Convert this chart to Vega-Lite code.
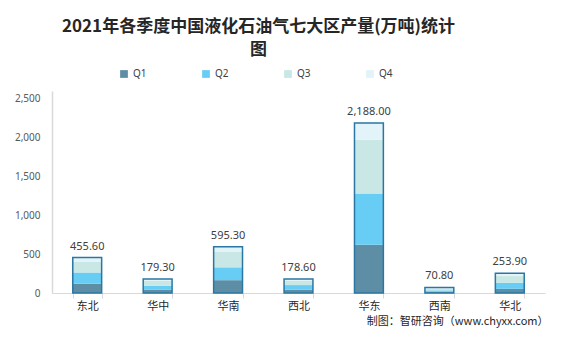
{
  "$schema": "https://vega.github.io/schema/vega-lite/v6.json",
  "width": 493,
  "height": 202,
  "autosize": "none",
  "padding": {"left": 52, "top": 91, "right": 16, "bottom": 46},
  "background": "white",
  "title": {
    "text": ["2021年各季度中国液化石油气七大区产量(万吨)统计", "图"],
    "font": "Noto Sans CJK SC",
    "fontSize": 17,
    "fontWeight": "bold",
    "color": "#262626",
    "lineHeight": 23,
    "anchor": "middle",
    "baseline": "top",
    "dx": -40,
    "offset": 10
  },
  "data": {
    "values": [
      {"region": "东北", "q": "Q1", "v": 119},
      {"region": "东北", "q": "Q2", "v": 145},
      {"region": "东北", "q": "Q3", "v": 140},
      {"region": "东北", "q": "Q4", "v": 51.6},
      {"region": "华中", "q": "Q1", "v": 41},
      {"region": "华中", "q": "Q2", "v": 53},
      {"region": "华中", "q": "Q3", "v": 62},
      {"region": "华中", "q": "Q4", "v": 23.3},
      {"region": "华南", "q": "Q1", "v": 165},
      {"region": "华南", "q": "Q2", "v": 165},
      {"region": "华南", "q": "Q3", "v": 198},
      {"region": "华南", "q": "Q4", "v": 67.3},
      {"region": "西北", "q": "Q1", "v": 42},
      {"region": "西北", "q": "Q2", "v": 60},
      {"region": "西北", "q": "Q3", "v": 58},
      {"region": "西北", "q": "Q4", "v": 18.6},
      {"region": "华东", "q": "Q1", "v": 620},
      {"region": "华东", "q": "Q2", "v": 660},
      {"region": "华东", "q": "Q3", "v": 694},
      {"region": "华东", "q": "Q4", "v": 214},
      {"region": "西南", "q": "Q1", "v": 14},
      {"region": "西南", "q": "Q2", "v": 20},
      {"region": "西南", "q": "Q3", "v": 24},
      {"region": "西南", "q": "Q4", "v": 12.8},
      {"region": "华北", "q": "Q1", "v": 53},
      {"region": "华北", "q": "Q2", "v": 78},
      {"region": "华北", "q": "Q3", "v": 87},
      {"region": "华北", "q": "Q4", "v": 35.9}
    ]
  },
  "encoding": {
    "x": {
      "field": "region",
      "type": "nominal",
      "sort": ["东北", "华中", "华南", "西北", "华东", "西南", "华北"],
      "scale": {"paddingInner": 0.59, "paddingOuter": 0.295},
      "axis": {
        "title": "制图：智研咨询（www.chyxx.com）",
        "titleFont": "Noto Sans CJK SC",
        "titleFontSize": 11,
        "titleFontWeight": "normal",
        "titleColor": "#262626",
        "titleAnchor": "end",
        "titleAlign": "right",
        "titleBaseline": "middle",
        "titleX": 496,
        "titleY": 28,
        "labelAngle": 0,
        "labelFont": "Noto Sans CJK SC",
        "labelFontSize": 11,
        "labelColor": "#262626",
        "labelPadding": 2,
        "tickBand": "extent",
        "tickSize": 5,
        "tickColor": "#D9D9D9",
        "domainColor": "#D9D9D9"
      }
    }
  },
  "layer": [
    {
      "mark": {"type": "bar"},
      "encoding": {
        "y": {
          "field": "v",
          "type": "quantitative",
          "stack": "zero",
          "scale": {"domain": [0, 2500]},
          "axis": {
            "title": null,
            "values": [0, 500, 1000, 1500, 2000, 2500],
            "format": ",.0f",
            "grid": false,
            "ticks": false,
            "labelPadding": 12,
            "labelFont": "Noto Sans",
            "labelFontSize": 10,
            "labelColor": "#595959",
            "domainColor": "#D9D9D9",
            "domainWidth": 1.5
          }
        },
        "color": {
          "field": "q",
          "type": "nominal",
          "scale": {
            "domain": ["Q1", "Q2", "Q3", "Q4"],
            "range": ["#5E8EA6", "#68CDF5", "#C9E7E4", "#E2F3F9"]
          },
          "legend": {
            "title": null,
            "orient": "none",
            "direction": "horizontal",
            "legendX": 67,
            "legendY": -22,
            "columns": 4,
            "columnPadding": 54,
            "gridAlign": "all",
            "symbolType": "square",
            "symbolSize": 60,
            "symbolStrokeWidth": 0,
            "labelFont": "Noto Sans",
            "labelFontSize": 10,
            "labelColor": "#404040",
            "labelOffset": 4
          }
        },
        "order": {"field": "q", "type": "ordinal", "sort": "ascending"}
      }
    },
    {
      "mark": {"type": "bar", "fill": "transparent", "stroke": "#2A77A3", "strokeWidth": 1.5},
      "encoding": {
        "y": {"aggregate": "sum", "field": "v", "type": "quantitative"}
      }
    },
    {
      "mark": {
        "type": "text",
        "baseline": "bottom",
        "dy": -6,
        "font": "Noto Sans",
        "fontSize": 11,
        "color": "#404040"
      },
      "encoding": {
        "y": {"aggregate": "sum", "field": "v", "type": "quantitative"},
        "text": {"aggregate": "sum", "field": "v", "type": "quantitative", "format": ",.2f"}
      }
    }
  ],
  "config": {
    "view": {"stroke": null}
  }
}
